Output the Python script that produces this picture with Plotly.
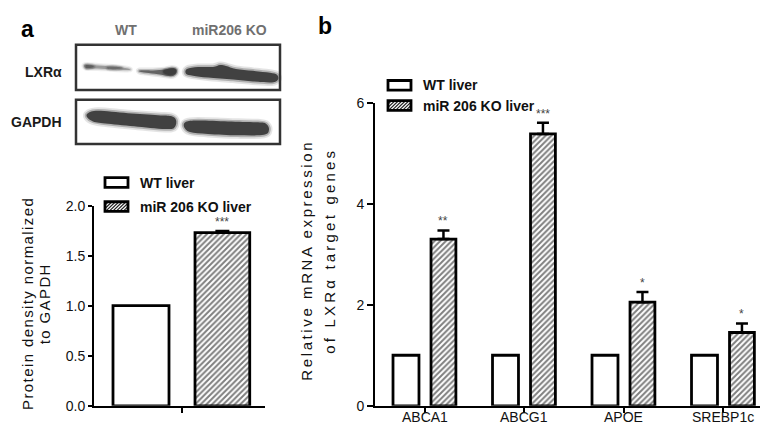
import plotly.graph_objects as go

W, H = 768, 426


def px(x):
    return x / W


def py(y):
    return 1 - y / H


# ---------------- data ----------------
blot_lanes = ["WT", "miR206 KO"]
blot_proteins = ["LXRα", "GAPDH"]
legend_names = ["WT liver", "miR 206 KO liver"]

a_category = ["LXRα"]
a_wt = [1.0]
a_ko = [1.73]
a_ko_err = [0.015]
a_sig = ["***"]
a_yticks = [0.0, 0.5, 1.0, 1.5, 2.0]
a_ytitle = ["Protein density normalized", "to GAPDH"]

b_genes = ["ABCA1", "ABCG1", "APOE", "SREBP1c"]
b_wt = [1.0, 1.0, 1.0, 1.0]
b_ko = [3.30, 5.38, 2.05, 1.45]
b_ko_err = [0.17, 0.22, 0.20, 0.18]
b_sig = ["**", "***", "*", "*"]
b_yticks = [0, 2, 4, 6]
b_ytitle = ["Relative mRNA expression", "of LXRα target genes"]

FONT = "Liberation Sans, Arial, sans-serif"
HATCH = dict(shape="/", fgcolor="#000000", bgcolor="white", size=4, solidity=0.5)

fig = go.Figure()

# ---------------- panel a bars ----------------
a_wt_off, a_wt_w = -0.4006, 0.3275
a_ko_off, a_ko_w = 0.079, 0.32
fig.add_trace(go.Bar(
    x=a_category, y=a_wt, name=legend_names[0], xaxis="x", yaxis="y",
    offset=a_wt_off, width=a_wt_w,
    marker=dict(color="white", line=dict(color="black", width=2.8)),
    showlegend=False,
))
fig.add_trace(go.Bar(
    x=a_category, y=a_ko, name=legend_names[1], xaxis="x", yaxis="y",
    offset=a_ko_off, width=a_ko_w,
    marker=dict(color="white", line=dict(color="black", width=2.8), pattern=HATCH),
    error_y=dict(type="data", symmetric=False, array=a_ko_err, arrayminus=[0] * len(a_ko),
                 color="black", thickness=2.5, width=7),
    showlegend=False,
))

# ---------------- panel b bars ----------------
b_wt_off, b_wt_w = -0.319, 0.261
b_ko_off, b_ko_w = 0.063, 0.25
fig.add_trace(go.Bar(
    x=b_genes, y=b_wt, name=legend_names[0], xaxis="x2", yaxis="y2",
    offset=b_wt_off, width=b_wt_w,
    marker=dict(color="white", line=dict(color="black", width=2.8)),
    showlegend=False,
))
fig.add_trace(go.Bar(
    x=b_genes, y=b_ko, name=legend_names[1], xaxis="x2", yaxis="y2",
    offset=b_ko_off, width=b_ko_w,
    marker=dict(color="white", line=dict(color="black", width=2.8), pattern=HATCH),
    error_y=dict(type="data", symmetric=False, array=b_ko_err, arrayminus=[0] * len(b_ko),
                 color="black", thickness=2.5, width=6),
    showlegend=False,
))

axis_common = dict(showline=True, linecolor="black", linewidth=2, ticks="outside",
                   tickwidth=2, tickcolor="black", showgrid=False, zeroline=False,
                   fixedrange=True)

fig.update_layout(
    width=W, height=H, margin=dict(l=0, r=0, t=0, b=0),
    paper_bgcolor="white", plot_bgcolor="white",
    font=dict(family=FONT, color="#111111"),
    barmode="overlay", showlegend=False,
    xaxis=dict(domain=[px(86), px(257)], range=[-0.5117, 0.4883], type="category",
               anchor="y", showticklabels=False, ticklen=5, **axis_common),
    yaxis=dict(domain=[py(405), py(197)], range=[0, 2], anchor="x",
               tickvals=a_yticks, ticktext=[f"{v:.1f}" for v in a_yticks],
               ticklen=4, tickfont=dict(size=14, color="#111111"), **axis_common),
    xaxis2=dict(domain=[px(367), px(765)], range=[-0.5, 3.5], type="category",
                anchor="y2", ticklen=5, showticklabels=False, **axis_common),
    yaxis2=dict(domain=[py(405), py(90)], range=[0, 6], anchor="x2",
                tickvals=b_yticks, ticktext=[str(v) for v in b_yticks],
                ticklen=6, tickfont=dict(size=14, color="#111111"), **axis_common),
)

shapes = []
annotations = []


def paper_pt(x, y):
    return f"{px(x):.5f},{py(y):.5f}"


def smooth_closed(points):
    n = len(points)
    d = "M" + paper_pt(*points[0])
    for i in range(n):
        p0 = points[(i - 1) % n]
        p1 = points[i]
        p2 = points[(i + 1) % n]
        p3 = points[(i + 2) % n]
        c1 = (p1[0] + (p2[0] - p0[0]) / 6, p1[1] + (p2[1] - p0[1]) / 6)
        c2 = (p2[0] - (p3[0] - p1[0]) / 6, p2[1] - (p3[1] - p1[1]) / 6)
        d += " C" + paper_pt(*c1) + " " + paper_pt(*c2) + " " + paper_pt(*p2)
    return d + " Z"


def band(points, color="#3b3b3b", core=0.95, blur=1.0):
    path = smooth_closed(points)
    shapes.append(dict(type="path", xref="paper", yref="paper", path=path,
                       fillcolor=color, line=dict(color=color, width=7 * blur), opacity=0.13, layer="above"))
    shapes.append(dict(type="path", xref="paper", yref="paper", path=path,
                       fillcolor=color, line=dict(color=color, width=3.5 * blur), opacity=0.3, layer="above"))
    shapes.append(dict(type="path", xref="paper", yref="paper", path=path,
                       fillcolor=color, line=dict(width=0), opacity=core, layer="above"))


def rect(x0, y0, x1, y1, width=2.5, color="#333333"):
    shapes.append(dict(type="rect", xref="paper", yref="paper",
                       x0=px(x0), x1=px(x1), y0=py(y1), y1=py(y0),
                       line=dict(color=color, width=width), fillcolor="rgba(0,0,0,0)", layer="above"))


def hatch(x0, y0, x1, y1, step=3.5):
    h = y1 - y0
    k = -h
    while k < (x1 - x0):
        xa, ya = x0 + k, y1
        xb, yb = x0 + k + h, y0
        if xa < x0:
            ya = y1 - (x0 - xa)
            xa = x0
        if xb > x1:
            yb = y0 + (xb - x1)
            xb = x1
        if xb > xa + 0.5:
            shapes.append(dict(type="line", xref="paper", yref="paper",
                               x0=px(xa), y0=py(ya), x1=px(xb), y1=py(yb),
                               line=dict(color="#222222", width=1.2), layer="above"))
        k += step


def text(x, y, s, size=14, color="#111111", bold=False, xanchor="center", yanchor="middle",
         angle=0, xref="paper", yref="paper", pad=1):
    if xref == "paper":
        x = px(x)
    if yref == "paper":
        y = py(y)
    annotations.append(dict(x=x, y=y, xref=xref, yref=yref, text=s, showarrow=False,
                            xanchor=xanchor, yanchor=yanchor, textangle=angle, borderpad=pad,
                            font=dict(family=FONT, size=size, color=color,
                                      weight="bold" if bold else "normal")))


# ---------------- western blot ----------------
rect(68, 30, 272, 77)
rect(68, 87, 272, 133)
# LXRα bands (WT faint)
band([(77, 50.5), (90, 51.5), (105, 52.5), (120, 54.5), (121, 56), (105, 55.5), (90, 54.5), (78, 54.5)],
     "#8c8c8c", core=0.8, blur=0.7)
band([(78, 51), (83, 51.2), (86, 52.8), (82, 54), (78, 53.8)], "#555555", core=0.8, blur=0.6)
band([(100, 53), (108, 52.8), (114, 54), (108, 55.2), (100, 54.8)], "#666666", core=0.8, blur=0.6)
band([(132, 56.5), (145, 56.5), (157, 55.5), (164, 54), (168.5, 55.5), (168, 60), (163, 62.5),
      (150, 60.5), (138, 59), (132, 58)], "#5a5a5a", core=0.9, blur=0.8)
band([(156, 56), (164, 54.5), (168, 56), (167, 60), (162, 61.5), (156, 59.5)], "#3c3c3c", core=0.9, blur=0.5)
band([(179, 55), (190, 53), (205, 53), (212, 51), (218, 52), (228, 55), (245, 57),
      (262, 59), (269, 61), (270, 66), (264, 69), (245, 68), (225, 66), (200, 64),
      (185, 62), (178, 60)])
# GAPDH bands
band([(80, 101), (90, 98.5), (120, 101), (150, 103), (163, 104), (168, 108), (167, 115),
      (160, 117.5), (130, 115), (100, 112), (85, 109.5), (79, 105)])
band([(178, 110), (190, 108.5), (220, 109.5), (250, 110.5), (258, 112), (261, 118),
      (256, 123.5), (230, 124), (200, 122.5), (182, 120.5), (176, 115)])

text(118, 15, blot_lanes[0], size=14, color="#707070", bold=True)
text(221, 15, blot_lanes[1], size=14, color="#707070", bold=True)
text(56, 58, blot_proteins[0], size=14, bold=True, xanchor="right", color="#1a1a1a")
text(56, 110, blot_proteins[1], size=14, bold=True, xanchor="right", color="#1a1a1a")

# panel letters
text(19, 13, "a", size=23, bold=True, color="#000000")
text(317, 10, "b", size=23, bold=True, color="#000000")

# ---------------- legends ----------------
for (lx, ly0, ly1) in [(97, 173, 198), (380, 72, 93)]:
    rect(lx, ly0 - 5, lx + 23, ly0 + 5, width=2.8, color="#000000")
    hatch(lx, ly1 - 5, lx + 23, ly1 + 5)
    rect(lx, ly1 - 5, lx + 23, ly1 + 5, width=2.8, color="#000000")
    text(lx + 33, ly0, legend_names[0], size=14, bold=True, xanchor="left", color="#111111")
    text(lx + 33, ly1, legend_names[1], size=14, bold=True, xanchor="left", color="#111111")

# ---------------- x tick labels of panel b ----------------
for g in b_genes:
    text(g, 425.5, g, size=14, color="#111111", xref="x2", yref="paper",
         yanchor="bottom", pad=0)

# ---------------- axis titles ----------------
text(20, 299, a_ytitle[0], size=15, angle=-90, color="#111111")
text(37, 299, a_ytitle[1], size=15, angle=-90, color="#111111")
text(298, 254, b_ytitle[0], size=15, angle=-90, color="#111111")
text(322, 244, b_ytitle[1], size=15, angle=-90, color="#111111")

# ---------------- significance marks ----------------
for i, s in enumerate(a_sig):
    text(i + a_ko_off + a_ko_w / 2, a_ko[i] + a_ko_err[i], s, size=12, color="#444444",
         xref="x", yref="y", yanchor="bottom")
for i, s in enumerate(b_sig):
    text(i + b_ko_off + b_ko_w / 2, b_ko[i] + b_ko_err[i], s, size=12, color="#444444",
         xref="x2", yref="y2", yanchor="bottom")

fig.update_layout(shapes=shapes, annotations=annotations)

post = """
var sp = {"Protein density normalized": 1.4, "to GAPDH": 1.4,
          "Relative mRNA expression": 2.6, "of LXRα target genes": 3.2};
document.querySelectorAll('text').forEach(function(t){
  var s = sp[t.textContent];
  if (s !== undefined) { t.style.letterSpacing = s + 'px'; }
});
"""

fig.write_html("out.html", post_script=post)
